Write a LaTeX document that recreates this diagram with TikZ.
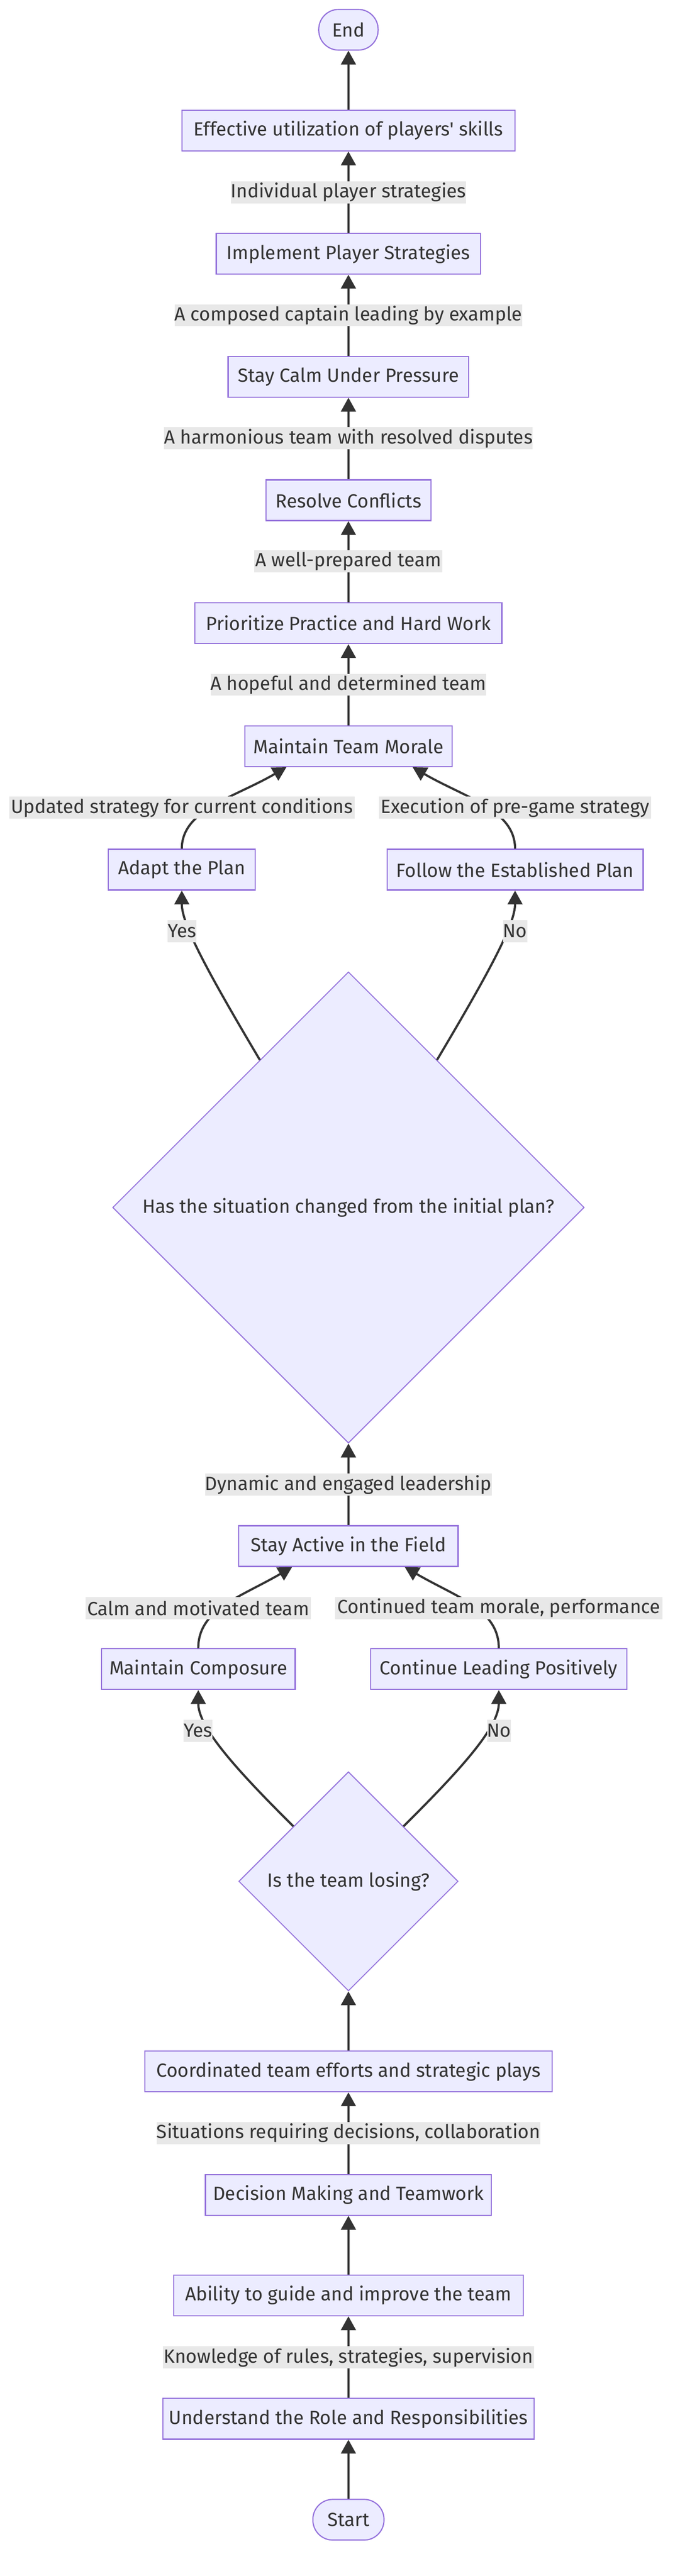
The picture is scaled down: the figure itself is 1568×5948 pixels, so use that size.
\documentclass[tikz,border=0pt]{standalone}
\usepackage{fontspec}
\newfontfamily\lblfont{Fira Sans}[Ligatures=TeXOff]
\usetikzlibrary{arrows.meta,shapes.geometric,calc}
\definecolor{boxfill}{HTML}{ECECFF}
\definecolor{boxline}{HTML}{9370DB}
\definecolor{lbl}{HTML}{E8E8E8}
\definecolor{ink}{HTML}{333333}
\begin{document}
\begin{tikzpicture}[x=0.5pt,y=-0.5pt,
  every node/.style={font=\lblfont\fontsize{22}{26}\selectfont, text=ink},
  box/.style={draw=boxline, fill=boxfill, line width=1.3pt, inner sep=0pt, minimum height=47pt},
  term/.style={box, rounded corners=23pt},
  dec/.style={draw=boxline, fill=boxfill, line width=1.1pt, diamond, aspect=1, inner sep=0pt},
  elabel/.style={fill=lbl, inner sep=0pt, minimum height=25.5pt},
  arr/.style={draw=ink, line width=2.5pt, -{Triangle[length=16pt,width=17pt]}},
]
\useasboundingbox[fill=white] (0,0) rectangle (1568,5948);

% nodes
\node[term, minimum width=68.5pt] (endn) at (804,68.7) {End};
\node[box, minimum width=384pt] (eff) at (804,301.5) {Effective utilization of players' skills};
\node[box, minimum width=305pt] (impl) at (804,586) {Implement Player Strategies};
\node[box, minimum width=277.5pt] (calm) at (804,870) {Stay Calm Under Pressure};
\node[box, minimum width=190.5pt] (resolve) at (804,1155) {Resolve Conflicts};
\node[box, minimum width=354pt] (prior) at (804,1439) {Prioritize Practice and Hard Work};
\node[box, minimum width=239pt] (morale) at (804,1723) {Maintain Team Morale};
\node[box, minimum width=169.5pt] (adapt) at (419.5,2008) {Adapt the Plan};
\node[box, minimum width=295.5pt] (follow) at (1188.5,2008) {Follow the Established Plan};
\node[dec, minimum width=544pt, minimum height=544pt] (d1) at (804,2788) {Has the situation changed from the initial plan?};
\node[box, minimum width=253pt] (active) at (804,3570) {Stay Active in the Field};
\node[box, minimum width=223.5pt] (compo) at (457.5,3854) {Maintain Composure};
\node[box, minimum width=296pt] (contin) at (1151,3854) {Continue Leading Positively};
\node[dec, minimum width=253pt, minimum height=253pt] (d2) at (804,4344) {Is the team losing?};
\node[box, minimum width=470pt] (coord) at (804,4783) {Coordinated team efforts and strategic plays};
\node[box, minimum width=330pt] (decis) at (804,5068) {Decision Making and Teamwork};
\node[box, minimum width=403.5pt] (ability) at (804,5300) {Ability to guide and improve the team};
\node[box, minimum width=428pt] (underst) at (804,5585) {Understand the Role and Responsibilities};
\node[term, minimum width=82pt] (start) at (804,5818) {Start};

% helper coordinates
\coordinate (mL) at ($(morale.south)+(-143,0)$);
\coordinate (mR) at ($(morale.south)+(148,0)$);
\coordinate (aL) at ($(active.south)+(-130,0)$);
\coordinate (aR) at ($(active.south)+(130,0)$);
\coordinate (d1L) at ($(d1.north)!0.375!(d1.west)$);
\coordinate (d1R) at ($(d1.north)!0.375!(d1.east)$);
\coordinate (d2L) at ($(d2.north)!0.5!(d2.west)$);
\coordinate (d2R) at ($(d2.north)!0.5!(d2.east)$);

% straight edges
\draw[arr] (start.north) -- (underst.south);
\draw[arr] (underst.north) -- (ability.south);
\draw[arr] (ability.north) -- (decis.south);
\draw[arr] (decis.north) -- (coord.south);
\draw[arr] (coord.north) -- (d2.south);
\draw[arr] (active.north) -- (d1.south);
\draw[arr] (morale.north) -- (prior.south);
\draw[arr] (prior.north) -- (resolve.south);
\draw[arr] (resolve.north) -- (calm.south);
\draw[arr] (calm.north) -- (impl.south);
\draw[arr] (impl.north) -- (eff.south);
\draw[arr] (eff.north) -- (endn.south);

% curved edges
\draw[arr] (d2L) .. controls +(-137,-136) and +(0,85) .. (compo.south);
\draw[arr] (d2R) .. controls +(137,-136) and +(0,85) .. (contin.south);
\draw[arr] (compo.north) .. controls +(0,-90) and +(-120,70) .. (aL);
\draw[arr] (contin.north) .. controls +(0,-90) and +(120,70) .. (aR);
\draw[arr] (d1L) .. controls +(-130,-219) and +(0,75) .. (adapt.south);
\draw[arr] (d1R) .. controls +(130,-219) and +(0,75) .. (follow.south);
\draw[arr] (adapt.north) .. controls +(0,-90) and +(-120,70) .. (mL);
\draw[arr] (follow.north) .. controls +(0,-90) and +(120,70) .. (mR);

% edge labels
\node[elabel, minimum width=271pt] (l1) at (804,444) {Individual player strategies};
\node[elabel, minimum width=400pt] (l2) at (804,728) {A composed captain leading by example};
\node[elabel, minimum width=421.5pt] (l3) at (804,1012) {A harmonious team with resolved disputes};
\node[elabel, minimum width=217pt] (l4) at (804,1296.5) {A well-prepared team};
\node[elabel, minimum width=317.5pt] (l5) at (804,1581) {A hopeful and determined team};
\node[elabel, minimum width=398pt] (l6) at (420,1865) {Updated strategy for current conditions};
\node[elabel, minimum width=314.5pt] (l7) at (1188.5,1865) {Execution of pre-game strategy};
\node[elabel, minimum width=31pt] (l8) at (420,2150) {Yes};
\node[elabel, minimum width=26.5pt] (l9) at (1188.5,2150) {No};
\node[elabel, minimum width=327pt] (l10) at (804,3428) {Dynamic and engaged leadership};
\node[elabel, minimum width=259.5pt] (l11) at (457.5,3713) {Calm and motivated team};
\node[elabel, minimum width=378pt] (l12) at (1151,3713) {Continued team morale, performance};
\node[elabel, minimum width=31pt] (l13) at (457,3996) {Yes};
\node[elabel, minimum width=26.5pt] (l14) at (1151.5,3996) {No};
\node[elabel, minimum width=439pt] (l15) at (804,4925) {Situations requiring decisions, collaboration};
\node[elabel, minimum width=428.5pt] (l16) at (804,5443) {Knowledge of rules, strategies, supervision};
\end{tikzpicture}
\end{document}
